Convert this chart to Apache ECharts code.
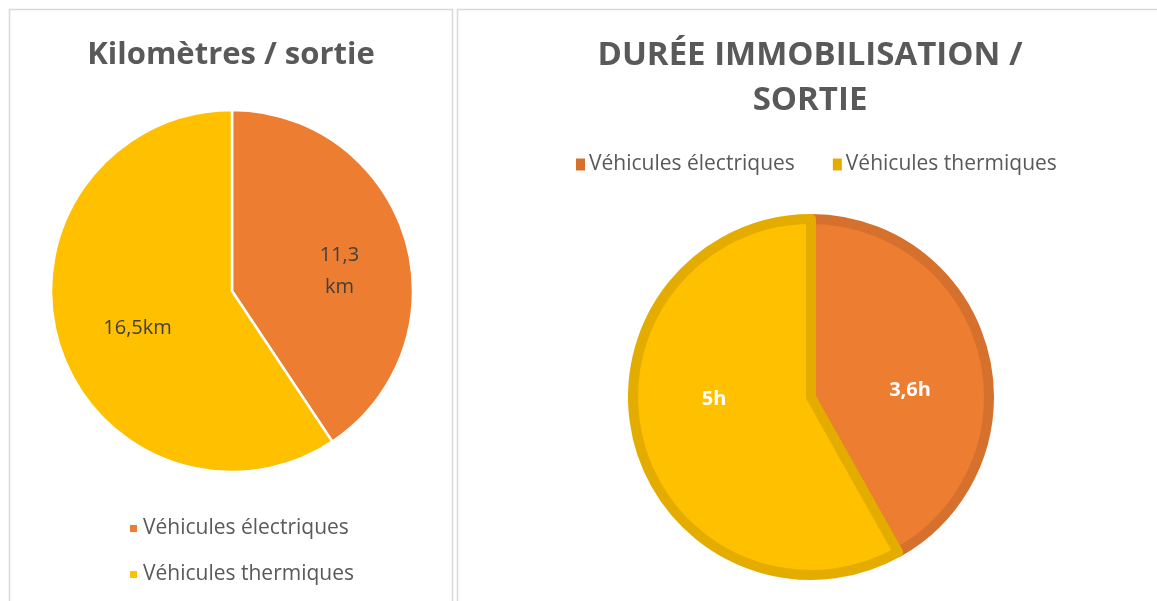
<!DOCTYPE html>
<html>
<head>
<meta charset="utf-8">
<script src="https://cdn.jsdelivr.net/npm/echarts@6/dist/echarts.min.js"></script>
<style>
  html, body { margin: 0; padding: 0; background: #fff; }
  #main { width: 1157px; height: 601px; }
</style>
</head>
<body>
<div id="main"></div>
<script>
// données
const categories = ['Véhicules électriques', 'Véhicules thermiques'];
const kmValues = [11.3, 16.5];
const kmLabels = ['11,3\nkm', '16,5km'];
const hoursValues = [3.6, 5];
const hoursLabels = ['3,6h', '5h'];

const fills = ['#ED7D31', '#FFC000'];
const borders = ['#D5712C', '#E5AC00'];
// décalage des étiquettes (position "best fit" d'Excel)
const kmLabelShift = [[18, 7], [-5, 10]];
const hoursLabelShift = [[10, 17], [-8, -21]];
const font = 'Open Sans';

const chart = echarts.init(document.getElementById('main'), null, { renderer: 'canvas' });

const option = {
  backgroundColor: '#fff',
  animation: false,
  graphic: [
    // cadres des deux graphiques
    { type: 'rect', shape: { x: 9.5, y: 9.5, width: 443, height: 600 },
      style: { fill: 'none', stroke: '#D9D9D9', lineWidth: 1.5 } },
    { type: 'rect', shape: { x: 457.5, y: 9.5, width: 710, height: 600 },
      style: { fill: 'none', stroke: '#D9D9D9', lineWidth: 1.5 } }
  ],
  title: [{
    text: 'Kilomètres / sortie',
    left: 226, top: 35, textAlign: 'center',
    textStyle: { fontFamily: font, fontWeight: 'bold', fontSize: 31, color: '#595959' }
  }, {
    text: 'DURÉE IMMOBILISATION /\nSORTIE',
    left: 805, top: 28, textAlign: 'center',
    textStyle: { fontFamily: font, fontWeight: 'bold', fontSize: 33, color: '#595959', lineHeight: 45 }
  }],
  legend: [{
    orient: 'vertical',
    left: 123, top: 513,
    itemWidth: 9, itemHeight: 9, itemGap: 25, icon: 'rect',
    data: categories.map((c, i) => ({ name: c, itemStyle: { color: fills[i] } })),
    textStyle: { fontFamily: font, fontSize: 21, color: '#595959' },
    selectedMode: false
  }, {
    orient: 'horizontal',
    left: 569, top: 149,
    itemWidth: 11, itemHeight: 14, itemGap: 36, icon: 'rect',
    data: categories.map((c, i) => ({ name: c, itemStyle: { color: borders[i] } })),
    textStyle: { fontFamily: font, fontSize: 21, color: '#595959', padding: [0, 0, 0, -2] },
    selectedMode: false
  }],
  series: [{
    type: 'pie',
    center: [232, 291],
    radius: 181,
    startAngle: 90,
    clockwise: true,
    silent: true,
    label: {
      show: true, position: 'inside',
      fontFamily: font, fontSize: 20, color: '#404040', lineHeight: 32,
      formatter: p => kmLabels[p.dataIndex]
    },
    labelLine: { show: false },
    itemStyle: { borderColor: '#fff', borderWidth: 2.5 },
    data: categories.map((c, i) => ({
      name: c, value: kmValues[i],
      itemStyle: { color: fills[i] },
      label: { offset: kmLabelShift[i] }
    }))
  }, {
    type: 'pie',
    center: [811, 397],
    radius: 178,
    startAngle: 90,
    clockwise: true,
    silent: true,
    label: {
      show: true, position: 'inside',
      fontFamily: font, fontSize: 20, fontWeight: 'bold', color: '#fff',
      formatter: p => hoursLabels[p.dataIndex]
    },
    labelLine: { show: false },
    data: categories.map((c, i) => ({
      name: c, value: hoursValues[i],
      itemStyle: { color: fills[i], borderColor: borders[i], borderWidth: 10 },
      label: { offset: hoursLabelShift[i] }
    }))
  }]
};

chart.setOption(option);
</script>
</body>
</html>
